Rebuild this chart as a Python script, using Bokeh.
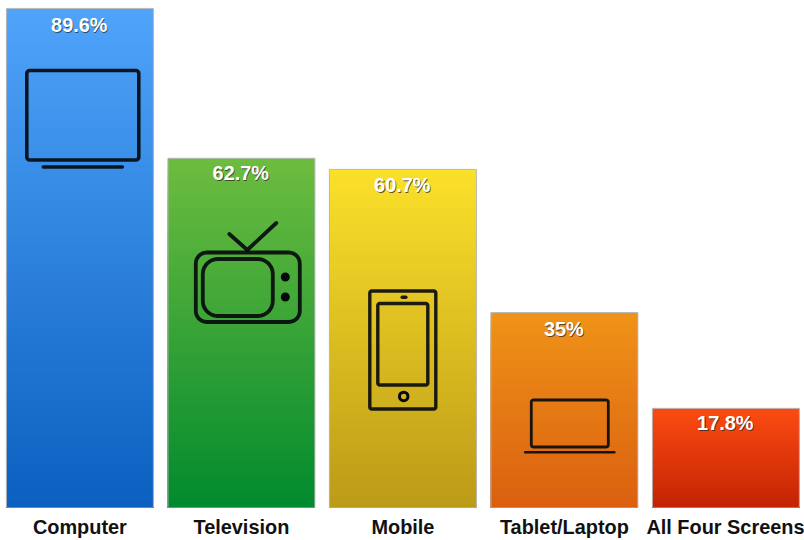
import numpy as np
from bokeh.plotting import figure, ColumnDataSource
from bokeh.models import Range1d, FixedTicker
from bokeh.core.properties import value
from bokeh.embed import file_html
from bokeh.resources import INLINE

categories = ["Computer", "Television", "Mobile", "Tablet/Laptop", "All Four Screens"]
values = [89.6, 62.7, 60.7, 35, 17.8]
labels = ["89.6%", "62.7%", "60.7%", "35%", "17.8%"]
top_colors = ["#4fa3f9", "#6dbc3f", "#fbe02a", "#ef9318", "#fb4b12"]
bottom_colors = ["#0a5fbf", "#008a2e", "#bb9a18", "#da5f10", "#c22304"]

W, H = 804, 540
PX_PER_UNIT = 5.57
PITCH = 161.5
CENTER0 = 79.4
BASE_Y = 507.0
FONT = "Liberation Sans"
label_drop = [17, 14.5, 15.5, 16.5, 14.5]

p = figure(width=W, height=H, output_backend="svg", toolbar_location=None,
           x_range=Range1d(-CENTER0 / PITCH, (W - CENTER0) / PITCH),
           y_range=Range1d(0, BASE_Y / PX_PER_UNIT),
           min_border_left=0, min_border_right=0, min_border_top=0, min_border_bottom=33,
           outline_line_color=None, background_fill_color="white", border_fill_color="white")
p.yaxis.visible = False
p.grid.visible = False
ax = p.xaxis[0]
ax.ticker = FixedTicker(ticks=list(range(len(categories))))
ax.major_label_overrides = {i: c for i, c in enumerate(categories)}
ax.axis_line_color = None
ax.major_tick_line_color = None
ax.minor_tick_line_color = None
ax.major_tick_out = 0
ax.major_tick_in = 0
ax.major_label_text_font = FONT
ax.major_label_text_font_style = "bold"
ax.major_label_text_font_size = "19.9px"
ax.major_label_text_color = "#111111"
ax.major_label_standoff = 8


def hex_rgb(h):
    return np.array([int(h[i:i + 2], 16) for i in (1, 3, 5)], dtype=float)


def px(x):
    return (x - CENTER0 - 0.2) / PITCH


def py(y):
    return (BASE_Y + 0.5 - y) / PX_PER_UNIT


BAR_W = 147 / PITCH
STEPS = 70
for i, v in enumerate(values):
    c0, c1 = hex_rgb(top_colors[i]), hex_rgb(bottom_colors[i])
    fr = np.linspace(1, 1 / STEPS, STEPS)
    cols = ["#%02x%02x%02x" % tuple(int(round(n)) for n in c1 + (c0 - c1) * f) for f in fr]
    p.quad(left=[i - BAR_W / 2] * STEPS, right=[i + BAR_W / 2] * STEPS, bottom=[0] * STEPS,
           top=list(v * fr), fill_color=cols, line_color=None)
    p.quad(left=[i - BAR_W / 2], right=[i + BAR_W / 2], bottom=[0], top=[v],
           fill_color=None, line_color="#b8b8b8", line_width=1)


def rrect(x0, y0, x1, y1, r):
    t = np.linspace(0, np.pi / 2, 8)
    xs, ys = [], []
    for cx, cy, a in [(x1 - r, y0 + r, -np.pi / 2), (x1 - r, y1 - r, 0), (x0 + r, y1 - r, np.pi / 2), (x0 + r, y0 + r, np.pi)]:
        xs += list(cx + r * np.cos(t + a))
        ys += list(cy + r * np.sin(t + a))
    xs.append(xs[0]); ys.append(ys[0])
    return [px(a) for a in xs], [py(b) for b in ys]


def stroke(paths, w):
    p.multi_line([a for a, _ in paths], [b for _, b in paths], line_color=ICON, line_alpha=0.9,
                 line_width=w, line_join="round", line_cap="round")


def seg(*pts):
    return [px(a) for a, _ in pts], [py(b) for _, b in pts]


ICON = "#05080c"
# computer
stroke([rrect(26.5, 70.5, 138.5, 160, 3), seg((43, 167), (122, 167))], 3.6)
# television
stroke([rrect(195.5, 252.5, 299.5, 322, 11), rrect(202.5, 259, 272.5, 316, 15),
        seg((229, 234), (247, 250), (276, 223))], 3.8)
p.scatter([px(285), px(285)], [py(277), py(297)], size=9, fill_color=ICON, line_color=None)
# mobile
stroke([rrect(369.5, 291, 435.5, 409, 2), rrect(377.5, 303.5, 427.5, 385, 2)], 3.4)
stroke([seg((402, 297.3), (405.5, 297.3))], 3.6)
p.scatter([px(403.4)], [py(396.4)], size=8.5, fill_color=None, line_color=ICON, line_width=3)
# laptop
stroke([rrect(531, 400, 608, 447, 2)], 2.8)
stroke([seg((525, 452.3), (614, 452.3))], 2.6)

src = ColumnDataSource(dict(x=list(range(len(values))), y=values, t=labels,
                            d0=[d + 1 for d in label_drop], d1=label_drop))
p.text("x", "y", text="t", source=src, text_font=value(FONT), text_font_style="bold",
       text_font_size="19.9px", text_color="#2a2a2a", text_alpha=0.75, text_align="center",
       text_baseline="middle", x_offset=0.2, y_offset="d0")
p.text("x", "y", text="t", source=src, text_font=value(FONT), text_font_style="bold",
       text_font_size="19.9px", text_color="white", text_align="center",
       text_baseline="middle", x_offset=-0.6, y_offset="d1")

open("out.html", "w").write(file_html(p, INLINE))
